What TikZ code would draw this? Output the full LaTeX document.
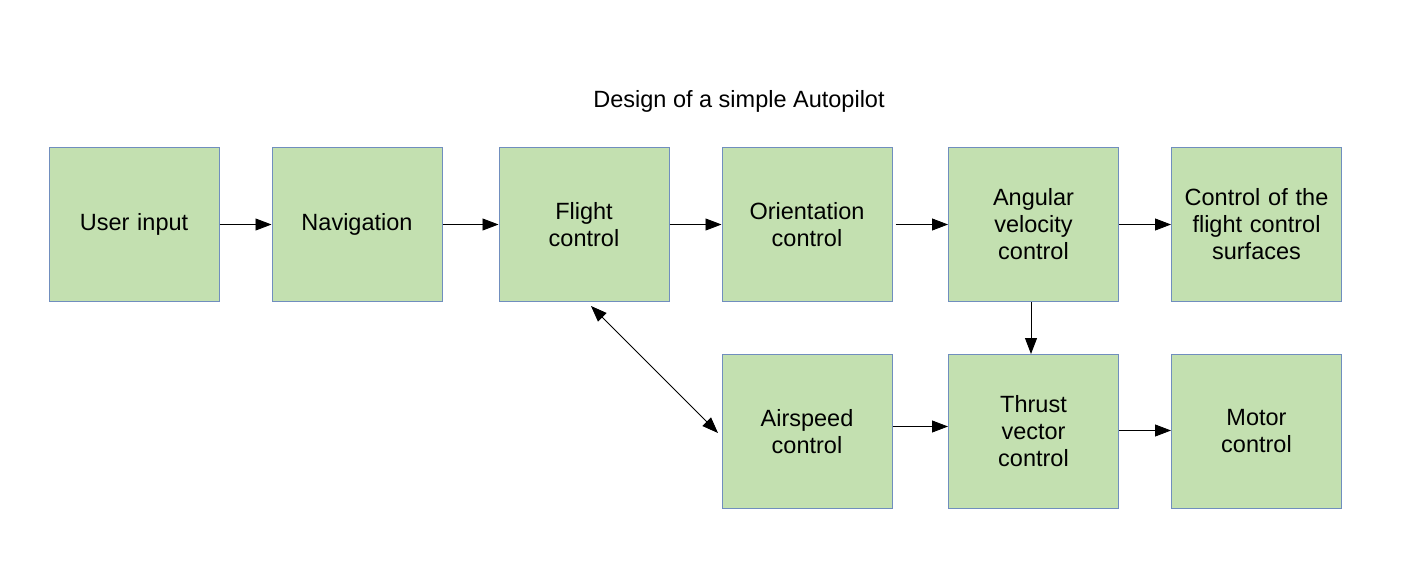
\documentclass[tikz,border=0pt]{standalone}
\usepackage{fontspec}
\setmainfont{Liberation Sans}
\usetikzlibrary{arrows.meta}
\definecolor{boxfill}{RGB}{195,224,176}
\definecolor{boxline}{RGB}{112,142,190}
\tikzset{
  blk/.style={draw=boxline, fill=boxfill, line width=1pt, minimum width=170pt, minimum height=154pt, inner sep=2pt, align=center, text width=165pt, font=\fontsize{23.5}{27}\selectfont},
  conn/.style={line width=0.9pt, -{Triangle[length=16pt,width=12pt]}},
  conn2/.style={line width=0.9pt, {Triangle[length=16pt,width=12pt]}-{Triangle[length=16pt,width=12pt]}}
}
\begin{document}
\begin{tikzpicture}[x=1pt,y=-1pt]
\useasboundingbox (0,0) rectangle (1416,588);
\node[font=\fontsize{23.5}{27}\selectfont] (title) at (739,101) {Design of a simple Autopilot};
\node[blk] (ui) at (134,224.5) {User input};
\node[blk] (nav) at (357,224.5) {Navigation};
\node[blk] (fc) at (584,224.5) {Flight\\control};
\node[blk] (oc) at (807,224.5) {Orientation\\control};
\node[blk] (av) at (1033.5,224.5) {Angular\\velocity\\control};
\node[blk] (cs) at (1256.5,224.5) {Control of the\\flight control\\surfaces};
\node[blk] (as) at (807,431.5) {Airspeed\\control};
\node[blk] (tv) at (1033.5,431.5) {Thrust\\vector\\control};
\node[blk] (mc) at (1256.5,431.5) {Motor\\control};
\draw[conn] (ui.east) -- (nav.west);
\draw[conn] (nav.east) -- (fc.west);
\draw[conn] (fc.east) -- (oc.west);
\draw[conn] ([xshift=3pt]oc.east) -- (av.west);
\draw[conn] (av.east) -- (cs.west);
\draw[conn] ([xshift=-2.5pt]av.south) -- ([xshift=-2.5pt]tv.north);
\draw[conn] ([yshift=5pt]as.east) -- ([yshift=5pt]tv.west);
\draw[conn] ([yshift=1pt]tv.east) -- ([yshift=1pt]mc.west);
\coordinate (d1) at (591,306);
\coordinate (d2) at (718,433);
\draw[conn2] (d1) -- (d2);
\end{tikzpicture}
\end{document}
